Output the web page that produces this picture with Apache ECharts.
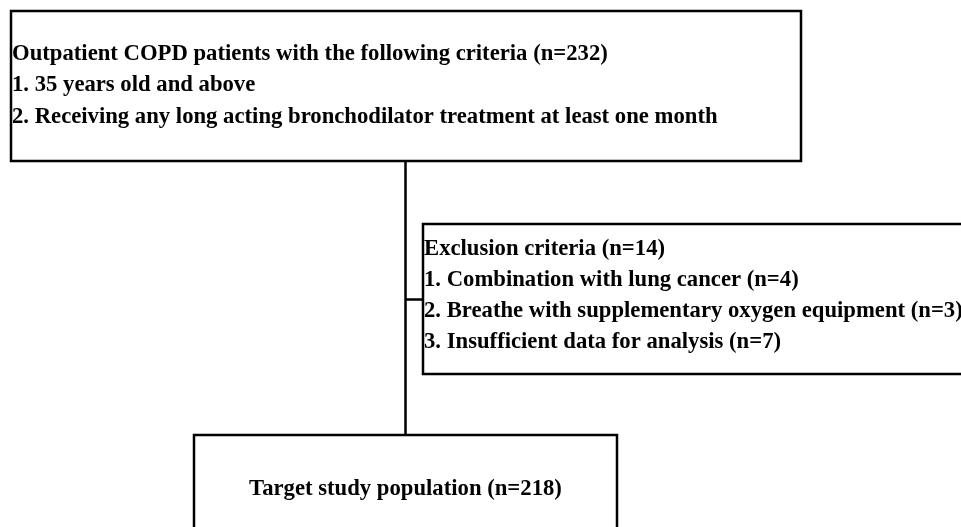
<!DOCTYPE html>
<html>
<head>
<meta charset="utf-8">
<script src="https://cdn.jsdelivr.net/npm/echarts@6/dist/echarts.min.js"></script>
<style>
  html, body { margin: 0; padding: 0; background: #fff; }
  #chart { width: 961px; height: 527px; }
</style>
</head>
<body>
<div id="chart"></div>
<script>
// Flow chart content
const boxNames = ["screened", "excluded", "target"];
const screenedLines = [
  "Outpatient COPD patients with the following criteria (n=232)",
  "1. 35 years old and above",
  "2. Receiving any long acting bronchodilator treatment at least one month"
];
const excludedLines = [
  "Exclusion criteria (n=14)",
  "1. Combination with lung cancer (n=4)",
  "2. Breathe with supplementary oxygen equipment (n=3)",
  "3. Insufficient data for analysis (n=7)"
];
const targetLines = ["Target study population (n=218)"];

// Layout in page pixels (hidden axes map 1:1 onto the canvas)
const layout = {
  screened: { x0: 11, y0: 11, x1: 801, y1: 161, align: "left", firstY: 54, step: 31.5 },
  excluded: { x0: 423, y0: 224, x1: 975, y1: 374, align: "left", firstY: 249, step: 31 },
  target:   { x0: 194, y0: 435, x1: 617, y1: 545, align: "center", firstY: 489, step: 30 }
};
const connectors = [
  [[405, 161], [405, 435]],
  [[405, 299], [423, 299]]
];

const textsByBox = { screened: screenedLines, excluded: excludedLines, target: targetLines };

function renderBox(params, api) {
  const name = boxNames[params.dataIndex];
  const l = layout[name];
  const p0 = api.coord([l.x0, l.y0]);
  const p1 = api.coord([l.x1, l.y1]);
  const children = [{
    type: "rect",
    shape: { x: p0[0], y: p0[1], width: p1[0] - p0[0], height: p1[1] - p0[1] },
    style: { fill: "#fff", stroke: "#000", lineWidth: 2.5 }
  }];
  textsByBox[name].forEach((t, i) => {
    const pt = api.coord([l.align === "left" ? l.x0 + 1 : (l.x0 + l.x1) / 2, l.firstY + i * l.step]);
    children.push({
      type: "text",
      style: {
        x: pt[0], y: pt[1], text: t,
        fill: "#000",
        font: "bold 22.7px 'Liberation Serif', 'Times New Roman', serif",
        align: l.align === "left" ? "left" : "center",
        verticalAlign: "middle"
      }
    });
  });
  return { type: "group", children };
}

const chart = echarts.init(document.getElementById("chart"), null, { renderer: "canvas" });
chart.setOption({
  animation: false,
  backgroundColor: "#fff",
  grid: { left: 0, right: 0, top: 0, bottom: 0 },
  xAxis: { type: "value", min: 0, max: 961, show: false },
  yAxis: { type: "value", min: 0, max: 527, inverse: true, show: false },
  series: [
    {
      type: "lines",
      coordinateSystem: "cartesian2d",
      z: 1,
      lineStyle: { color: "#000", width: 2.5, opacity: 1 },
      data: connectors.map((c) => ({ coords: c }))
    },
    {
      type: "custom",
      z: 2,
      clip: false,
      renderItem: renderBox,
      data: boxNames.map((n, i) => [i])
    }
  ]
});
</script>
</body>
</html>
